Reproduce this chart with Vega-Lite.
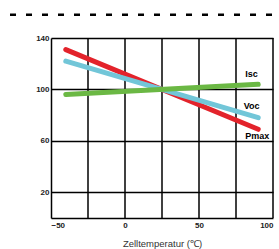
{
  "$schema": "https://vega.github.io/schema/vega-lite/v6.json",
  "autosize": "none",
  "width": 222,
  "height": 180,
  "padding": {"left": 51, "top": 38, "right": 6, "bottom": 31},
  "background": "white",
  "config": {
    "view": {"stroke": null},
    "font": "Liberation Sans",
    "axis": {
      "gridColor": "black", "gridWidth": 1.5, "gridOpacity": 1,
      "domainColor": "black", "domainWidth": 1.5,
      "ticks": false,
      "labelFontSize": 8, "labelFontWeight": "bold", "labelColor": "#222222"
    }
  },
  "datasets": {
    "curves": [
      {"series": "Pmax", "temp": -40, "value": 131},
      {"series": "Pmax", "temp": 90, "value": 69},
      {"series": "Voc", "temp": -40, "value": 122},
      {"series": "Voc", "temp": 90, "value": 78},
      {"series": "Isc", "temp": -40, "value": 96},
      {"series": "Isc", "temp": 90, "value": 104}
    ],
    "divider": [
      {"temp": -77.7, "value": 158},
      {"temp": 104, "value": 158}
    ],
    "vgrid": [
      {"temp": -25}, {"temp": 0}, {"temp": 25}, {"temp": 50}, {"temp": 75}, {"temp": 100}
    ]
  },
  "layer": [
    {
      "data": {"name": "vgrid"},
      "mark": {"type": "rule", "color": "black", "strokeWidth": 1.5},
      "encoding": {
        "x": {
          "field": "temp", "type": "quantitative",
          "scale": {"domain": [-50, 100], "nice": false, "zero": false},
          "axis": {
            "values": [-50, -25, 0, 25, 50, 75, 100],
            "title": "Zelltemperatur (℃)",
            "titleFont": "Liberation Sans", "titleFontSize": 9.5, "titleFontWeight": "normal", "titleColor": "#333333",
            "titlePadding": 9, "labelPadding": 3, "grid": false
          }
        }
      }
    },
    {
      "data": {"name": "curves"},
      "mark": {"type": "line", "strokeWidth": 5, "strokeCap": "round"},
      "encoding": {
        "x": {
          "field": "temp", "type": "quantitative",
          "scale": {"domain": [-50, 100], "nice": false, "zero": false},
          "axis": {
            "values": [-50, -25, 0, 25, 50, 75, 100],
            "title": "Zelltemperatur (℃)",
            "titleFont": "Liberation Sans", "titleFontSize": 9.5, "titleFontWeight": "normal", "titleColor": "#333333",
            "titlePadding": 9, "labelPadding": 3, "grid": false
          }
        },
        "y": {
          "field": "value", "type": "quantitative",
          "scale": {"domain": [0, 140], "nice": false},
          "axis": {"values": [20, 40, 60, 80, 100, 120, 140], "title": null, "labelPadding": 2, "grid": true}
        },
        "color": {
          "field": "series", "type": "nominal",
          "scale": {"domain": ["Pmax", "Voc", "Isc"], "range": ["#e3232b", "#72c6d8", "#6bb844"]},
          "legend": null
        },
        "detail": {"field": "series"}
      }
    },
    {
      "data": {"name": "divider"},
      "mark": {"type": "line", "color": "black", "strokeWidth": 2.5, "strokeDash": [6, 10], "clip": false},
      "encoding": {
        "x": {
          "field": "temp", "type": "quantitative",
          "axis": {
            "values": [-50, -25, 0, 25, 50, 75, 100],
            "title": "Zelltemperatur (℃)",
            "titleFont": "Liberation Sans", "titleFontSize": 9.5, "titleFontWeight": "normal", "titleColor": "#333333",
            "titlePadding": 9, "labelPadding": 3, "grid": false
          }
        },
        "y": {
          "field": "value", "type": "quantitative",
          "axis": {"values": [20, 40, 60, 80, 100, 120, 140], "title": null, "labelPadding": 2, "grid": true}
        }
      }
    },
    {
      "data": {"name": "curves"},
      "transform": [{"filter": "datum.series == 'Isc' && datum.temp == 90"}],
      "mark": {"type": "text", "text": "Isc", "align": "left", "baseline": "middle", "dx": -13, "dy": -10, "fontSize": 9, "fontWeight": "bold", "color": "black"},
      "encoding": {
        "x": {"field": "temp", "type": "quantitative"},
        "y": {"field": "value", "type": "quantitative"}
      }
    },
    {
      "data": {"name": "curves"},
      "transform": [{"filter": "datum.series == 'Voc' && datum.temp == 90"}],
      "mark": {"type": "text", "text": "Voc", "align": "left", "baseline": "middle", "dx": -14.5, "dy": -11.5, "fontSize": 9, "fontWeight": "bold", "color": "black"},
      "encoding": {
        "x": {"field": "temp", "type": "quantitative"},
        "y": {"field": "value", "type": "quantitative"}
      }
    },
    {
      "data": {"name": "curves"},
      "transform": [{"filter": "datum.series == 'Pmax' && datum.temp == 90"}],
      "mark": {"type": "text", "text": "Pmax", "align": "left", "baseline": "middle", "dx": -13, "dy": 7, "fontSize": 9, "fontWeight": "bold", "color": "black"},
      "encoding": {
        "x": {"field": "temp", "type": "quantitative"},
        "y": {"field": "value", "type": "quantitative"}
      }
    }
  ]
}
